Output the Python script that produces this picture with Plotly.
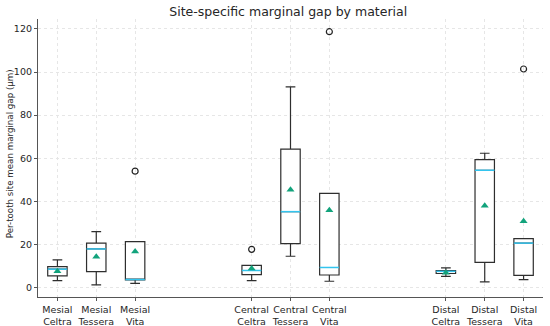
import plotly.graph_objects as go

labels = ["Mesial<br>Celtra", "Mesial<br>Tessera", "Mesial<br>Vita",
          "Central<br>Celtra", "Central<br>Tessera", "Central<br>Vita",
          "Distal<br>Celtra", "Distal<br>Tessera", "Distal<br>Vita"]
positions = [1, 2, 3, 6, 7, 8, 11, 12, 13]
q1 = [5.4, 7.4, 3.5, 6.0, 20.4, 5.8, 6.5, 11.7, 5.6]
medians = [8.5, 17.9, 3.7, 7.9, 35.2, 9.3, 7.5, 54.4, 20.6]
q3 = [9.7, 20.6, 21.3, 10.3, 64.2, 43.7, 7.9, 59.3, 22.7]
whisk_lo = [3.2, 1.2, 1.9, 3.2, 14.5, 2.9, 5.2, 2.6, 3.7]
whisk_hi = [12.8, 25.9, 21.3, 10.3, 93.1, 43.7, 9.1, 62.3, 22.7]
means = [7.5, 14.3, 16.7, 8.8, 45.4, 35.9, 6.9, 38.0, 30.7]
outlier_pos = [3, 6, 8, 13]
outlier_vals = [54.0, 17.7, 118.7, 101.4]

box_w = 0.5
fig = go.Figure()
for p, a, m, b, lo, hi in zip(positions, q1, medians, q3, whisk_lo, whisk_hi):
    fig.add_trace(go.Box(
        x=[p], q1=[a], median=[m], q3=[b], lowerfence=[lo], upperfence=[hi],
        width=box_w, whiskerwidth=0.5, fillcolor="white",
        line=dict(color="#2e2e2e", width=1.2), showlegend=False, hoverinfo="skip"))
    fig.add_trace(go.Scatter(
        x=[p - box_w / 2, p + box_w / 2], y=[m, m], mode="lines",
        line=dict(color="#33c4ee", width=1.5), showlegend=False))

fig.add_trace(go.Scatter(
    x=positions, y=means, mode="markers",
    marker=dict(symbol="triangle-up", size=7, color="#12a37c"), showlegend=False))
fig.add_trace(go.Scatter(
    x=outlier_pos, y=outlier_vals, mode="markers",
    marker=dict(symbol="circle-open", size=6, color="#222222", line=dict(width=1.2)),
    showlegend=False))

font = "DejaVu Sans, sans-serif"
fig.update_layout(
    width=550, height=326,
    margin=dict(l=38, r=7, t=19, b=29),
    paper_bgcolor="white", plot_bgcolor="white",
    font=dict(family=font, size=9.5, color="#262626"),
    title=dict(text="Site-specific marginal gap by material", x=0.524, xanchor="center",
               y=0.978, yanchor="top", font=dict(size=12.5, color="#262626")),
    xaxis=dict(range=[0.5, 13.5], tickmode="array", tickvals=positions, ticktext=labels,
               showgrid=True, gridcolor="#e6e6e6", griddash="dot", gridwidth=0.7,
               showline=True, linecolor="#555555", linewidth=1.2, automargin=False,
               ticks="outside", ticklen=3, tickcolor="#555555", zeroline=False),
    yaxis=dict(range=[-4.4, 124.6], tickvals=[0, 20, 40, 60, 80, 100, 120],
               showgrid=True, gridcolor="#e6e6e6", griddash="dot", gridwidth=0.7,
               showline=True, linecolor="#555555", linewidth=1.2, automargin=False,
               ticks="outside", ticklen=3, tickcolor="#555555", zeroline=False),
    annotations=[dict(text="Per-tooth site mean marginal gap (μm)", textangle=-90,
                      xref="paper", yref="paper", x=-0.0565, y=0.515,
                      xanchor="center", yanchor="middle", showarrow=False,
                      font=dict(size=8.7, color="#262626"))],
)
fig.write_html("out.html", config={"displayModeBar": False},
               post_script="document.body.style.margin='0';")
